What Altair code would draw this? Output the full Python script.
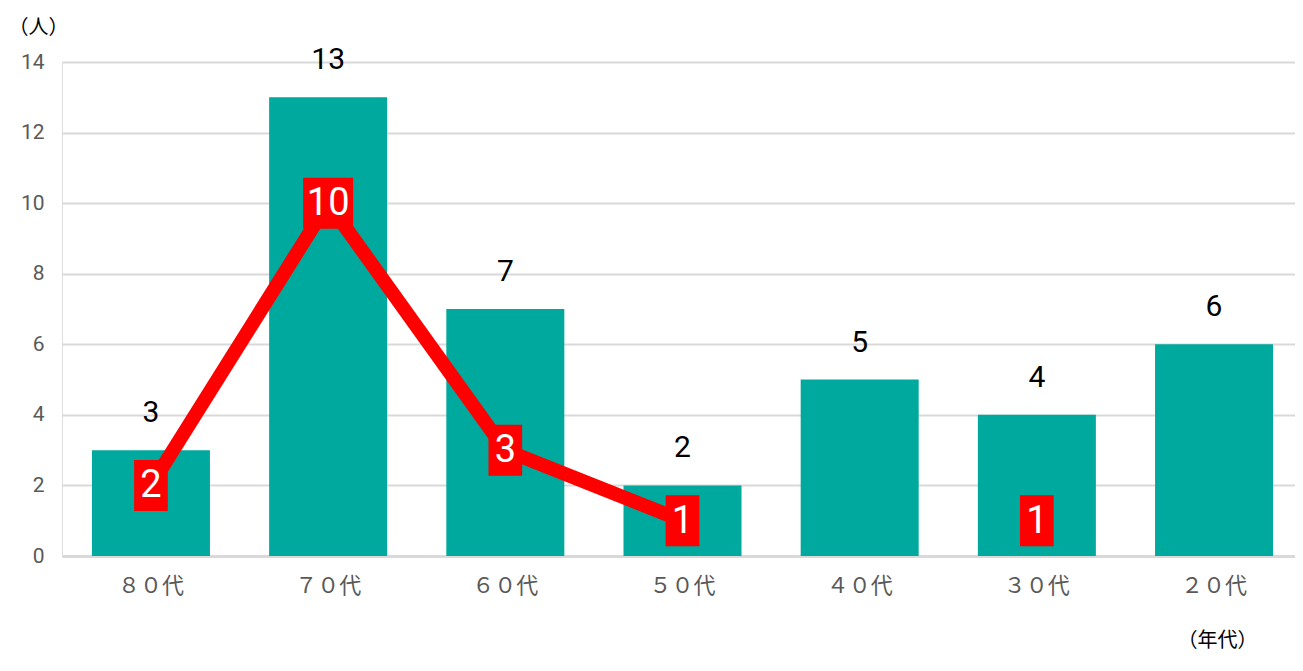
import altair as alt
import pandas as pd

categories = ["８０代", "７０代", "６０代", "５０代", "４０代", "３０代", "２０代"]
bar_values = [3, 13, 7, 2, 5, 4, 6]
line_values = [2, 10, 3, 1, None, 1, None]

# segment ids so that the line breaks at missing values
seg_ids = []
seg = 0
for v in line_values:
    if v is None:
        seg += 1
    seg_ids.append(seg)

bars_df = pd.DataFrame({"cat": categories, "value": bar_values})
line_df = pd.DataFrame({"cat": categories, "value": line_values, "seg": seg_ids}).dropna()
line_df["label"] = line_df["value"].astype(int).astype(str)
line_df["width"] = ["wide" if len(s) > 1 else "narrow" for s in line_df["label"]]

NUM_FONT = "Roboto, Liberation Sans, sans-serif"
JP_FONT = "Noto Sans CJK JP"

x_scale = alt.Scale(range=[0, 1241], paddingInner=0.334, paddingOuter=0.169)

x_enc = alt.X(
    "cat:N",
    sort=categories,
    scale=x_scale,
    axis=alt.Axis(
        title="（年代）",
        titleAngle=0,
        titleX=1155,
        titleY=84,
        titleAlign="center",
        titleBaseline="middle",
        titleFont=JP_FONT,
        titleFontSize=20,
        titleFontWeight="normal",
        titleColor="#000000",
        labelAngle=0,
        labelFont=JP_FONT,
        labelFontSize=22,
        labelColor="#595959",
        labelPadding=19,
        ticks=False,
        domain=True,
        domainColor="#d9d9d9",
        domainWidth=3,
        grid=False,
    ),
)

y_scale = alt.Scale(domain=[0, 14])
y_axis = alt.Axis(
    title="（人）",
    titleAngle=0,
    titleX=-54,
    titleY=-35,
    titleAlign="left",
    titleBaseline="middle",
    titleFont=JP_FONT,
    titleFontSize=20,
    titleFontWeight="normal",
    titleColor="#000000",
    values=[0, 2, 4, 6, 8, 10, 12, 14],
    labelFont=NUM_FONT,
    labelFontSize=21,
    labelColor="#595959",
    labelPadding=18,
    ticks=False,
    domain=False,
    grid=True,
    gridColor="#d9d9d9",
    gridWidth=2,
)

base_bars = alt.Chart(bars_df)
bars = base_bars.mark_bar(color="#00A99D").encode(
    x=x_enc,
    y=alt.Y("value:Q", scale=y_scale, axis=y_axis),
)
bar_text = base_bars.mark_text(
    dy=-37, baseline="middle", font=NUM_FONT, fontSize=30, color="#000000"
).encode(
    x=alt.X("cat:N", sort=categories),
    y=alt.Y("value:Q"),
    text=alt.Text("value:Q"),
)

base_line = alt.Chart(line_df)
line = base_line.mark_line(color="#FF0000", strokeWidth=14, strokeJoin="miter").encode(
    x=alt.X("cat:N", sort=categories),
    y=alt.Y("value:Q"),
    detail="seg:N",
)
boxes = base_line.mark_point(
    size=2600,
    filled=True,
    color="#FF0000",
    opacity=1,
).encode(
    x=alt.X("cat:N", sort=categories),
    y=alt.Y("value:Q"),
    shape=alt.Shape(
        "width:N",
        scale=alt.Scale(
            domain=["narrow", "wide"],
            range=[
                "M-0.66,-1L0.66,-1L0.66,1L-0.66,1Z",
                "M-0.98,-1L0.98,-1L0.98,1L-0.98,1Z",
            ],
        ),
        legend=None,
    ),
)
box_text = base_line.mark_text(
    baseline="middle", dy=1, font=NUM_FONT, fontSize=38, color="#FFFFFF"
).encode(
    x=alt.X("cat:N", sort=categories),
    y=alt.Y("value:Q"),
    text="label:N",
)

chart = (
    alt.layer(bars, bar_text, line, boxes, box_text)
    .properties(
        width=1233,
        height=494,
        autosize=alt.AutoSizeParams(type="none"),
        padding={"left": 54, "top": 54, "right": 0, "bottom": 102},
    )
    .configure_view(stroke=None)
    .configure(background="#FFFFFF")
)

chart.save("out.html", embed_options={"renderer": "svg", "actions": False})
